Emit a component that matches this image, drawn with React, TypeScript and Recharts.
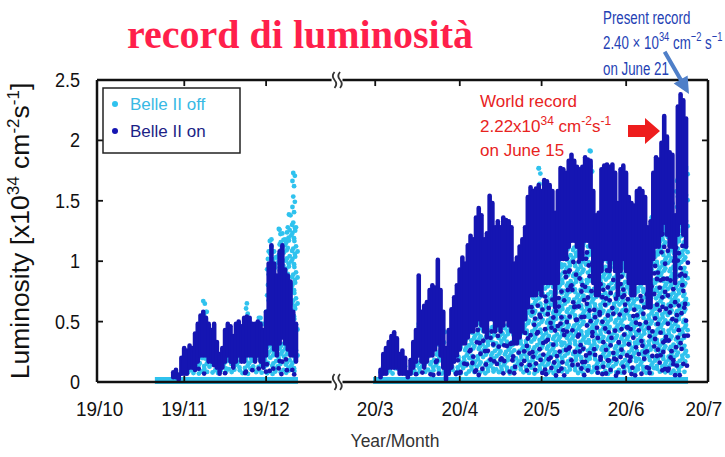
import React from 'react';
import { ComposedChart, Bar, XAxis, YAxis, ReferenceLine, ReferenceDot } from 'recharts';

// x is a compressed day axis: 0 = 1 Oct 2019, the winter shutdown is cut out (1 Mar 2020 = 101)
const xTicks = [0, 31, 61, 101, 132, 162, 193, 223];
const xTickLabels = ['19/10', '19/11', '19/12', '20/3', '20/4', '20/5', '20/6', '20/7'];
const yTicks = [0, 0.5, 1, 1.5, 2, 2.5];
const yTickLabels = ['0', '0.5', '1', '1.5', '2', '2.5'];

// autumn 2019 run, one value per day from 22 Oct
const autumnStart = 21;
const autumnOnHigh = [
  null, null, null, null, null, null,
  0.1, 0.12, 0.08, 0.22, 0.3, 0.28, 0.32, 0.3, 0.42, 0.5, 0.57, 0.6, 0.55, 0.5,
  0.45, 0.5, 0.35, 0.25, 0.3, 0.45, 0.5, 0.48, 0.4, 0.5, 0.52, 0.48, 0.55, 0.56,
  0.55, 0.5, 0.5, 0.52, 0.5, 0.45, 0.6, 1.0, 1.15, 1.0, 0.9, 1.1, 1.15, 0.95, 0.9,
  0.85, 0.6, 0.5,
];
const autumnOnLow = [
  null, null, null, null, null, null,
  0.02, 0.02, 0.0, 0.05, 0.05, 0.05, 0.1, 0.1, 0.08, 0.15, 0.2, 0.2, 0.2, 0.15,
  0.15, 0.12, 0.1, 0.05, 0.1, 0.15, 0.2, 0.15, 0.1, 0.15, 0.2, 0.15, 0.15, 0.2,
  0.2, 0.2, 0.15, 0.2, 0.15, 0.1, 0.2, 0.3, 0.3, 0.25, 0.2, 0.3, 0.35, 0.3, 0.25,
  0.2, 0.2, 0.15,
];
const autumnOffHigh = [
  0.03, 0.03, 0.03, 0.03, 0.03, 0.03,
  0.03, 0.03, 0.03, 0.1, 0.12, 0.15, 0.2, 0.15, 0.2, 0.25, 0.3, 0.69, 0.6, 0.4,
  0.3, 0.3, 0.2, 0.15, 0.2, 0.25, 0.3, 0.3, 0.2, 0.3, 0.3, 0.3, 0.35, 0.67,
  0.45, 0.4, 0.45, 0.5, 0.55, 0.5, 0.6, 1.1, 1.2, 1.1, 1.05, 1.28, 1.25, 1.2, 1.3,
  1.4, 1.75, 1.3,
];

// spring 2020 run, one value per day from 1 Mar
const springStart = 101;
const springOnHigh = [
  null, null, 0.12, 0.25, 0.3, 0.35, 0.4, 0.43, 0.38, 0.25,
  0.28, 0.22, 0.1, 0.2, 0.35, 0.45, 0.9, 0.6, 0.65, 0.68,
  0.78, 0.82, 0.8, 1.03, 0.78, 0.6, 0.3, 0.45, 0.62, 0.72,
  0.82, 0.95, 1.05, 1.0, 1.15, 1.23, 1.2, 1.38, 1.46, 1.4,
  1.2, 1.25, 1.56, 1.5, 1.3, 1.35, 1.3, 1.38, 1.36, 1.35,
  1.3, 1.0, 1.05, 1.14, 1.2, 1.3, 1.55, 1.63, 1.6, 1.62,
  1.65, 1.6, 1.69, 1.68, 1.65, 1.6, 1.42, 1.6, 1.79, 1.78,
  1.75, 1.85, 1.9, 1.85, 1.8, 1.78, 1.8, 1.88, 1.86, 1.85,
  1.6, 1.4, 1.42, 1.78, 1.81, 1.82, 1.8, 1.82, 1.75, 1.5,
  1.78, 1.81, 1.75, 1.55, 1.5, 1.48, 1.6, 1.62, 1.6, 1.55,
  1.3, 1.35, 1.75, 1.88, 1.86, 2.0, 2.22, 2.05, 1.92, 1.9,
  1.4, 2.3, 2.4, 2.35, 2.2,
];
const springOnLow = [
  null, null, 0.02, 0.05, 0.05, 0.1, 0.1, 0.1, 0.1, 0.05,
  0.05, 0.05, 0.02, 0.05, 0.1, 0.15, 0.2, 0.15, 0.1, 0.15,
  0.2, 0.2, 0.25, 0.3, 0.2, 0.1, 0.0, 0.05, 0.1, 0.15,
  0.2, 0.25, 0.3, 0.3, 0.35, 0.4, 0.4, 0.45, 0.5, 0.45,
  0.4, 0.35, 0.5, 0.5, 0.4, 0.45, 0.4, 0.45, 0.5, 0.45,
  0.4, 0.3, 0.3, 0.35, 0.4, 0.5, 0.6, 0.7, 0.7, 0.7,
  0.75, 0.7, 0.8, 0.8, 0.8, 0.8, 0.6, 0.8, 1.0, 1.0,
  1.0, 1.1, 1.15, 1.15, 1.1, 1.0, 1.0, 1.15, 1.15, 1.1,
  0.8, 0.7, 0.7, 0.9, 1.0, 1.0, 0.9, 1.0, 0.9, 0.7,
  0.9, 1.0, 0.9, 0.8, 0.7, 0.7, 0.8, 0.8, 0.8, 0.8,
  0.6, 0.6, 1.0, 1.1, 1.1, 1.2, 1.3, 1.2, 1.1, 1.1,
  0.8, 1.2, 1.3, 1.2, 1.1,
];
const springOffHigh = [
  0.03, 0.05, 0.1, 0.15, 0.2, 0.25, 0.25, 0.3, 0.25, 0.2,
  0.2, 0.15, 0.08, 0.1, 0.2, 0.3, 0.5, 0.4, 0.4, 0.45,
  0.5, 0.55, 0.5, 0.6, 0.5, 0.45, 0.2, 0.3, 0.4, 0.45,
  0.5, 0.55, 0.6, 0.6, 0.7, 0.75, 0.8, 0.85, 0.9, 0.9,
  0.85, 0.9, 1.0, 1.0, 0.95, 1.0, 0.9, 1.0, 1.0, 1.05,
  0.95, 0.8, 0.85, 0.9, 0.9, 1.0, 1.2, 1.3, 1.3, 1.4,
  1.79, 1.5, 1.4, 1.3, 1.3, 1.3, 1.2, 1.3, 1.4, 1.35,
  1.35, 1.4, 1.45, 1.4, 1.35, 1.4, 1.4, 1.45, 1.5, 1.93,
  1.3, 1.2, 1.2, 1.35, 1.4, 1.4, 1.4, 1.45, 1.4, 1.3,
  1.4, 1.45, 1.4, 1.3, 1.25, 1.2, 1.3, 1.3, 1.35, 1.3,
  1.1, 1.15, 1.4, 1.5, 1.5, 1.5, 1.6, 1.55, 1.5, 1.5,
  1.3, 1.7, 1.95, 1.9, 1.8,
];

const OFF = '#2fc2ee';
const ON = '#1515b2';
const INK = '#111';
const FONT = '"Liberation Sans", Arial, sans-serif';
const PLOT_BOTTOM = 382;

const toRows = (start: number, onHigh: (number | null)[], onLow: (number | null)[], offHigh: number[]) =>
  offHigh.map((off, i) => ({
    day: start + i,
    off: [0, off],
    on: onHigh[i] == null ? null : [onLow[i], onHigh[i]],
  }));

const rows = [
  ...toRows(autumnStart, autumnOnHigh, autumnOnLow, autumnOffHigh),
  ...toRows(springStart, springOnHigh, springOnLow, springOffHigh),
];

// cyan column: solid band at zero, speckled dots up to the daily maximum
const OffColumn = (props: any) => {
  const { x, y, width, height, index } = props;
  if (height == null || isNaN(height)) return <g />;
  const cx = x + width / 2;
  const bottom = y + height;
  const dots = [];
  let k = 0;
  for (let yy = bottom - 8 - ((index * 2.3) % 5.2); yy > y + 1; yy -= 5.2, k++) {
    if ((index * 7 + k * 13) % 5 === 0) continue;
    const j = (((index * 5 + k * 3) % 5) - 2) * 0.8;
    dots.push(<circle key={k} cx={cx + j} cy={yy} r={2.4} fill={OFF} />);
  }
  return (
    <g>
      <rect x={cx - 2} y={bottom - 5} width={4} height={7} fill={OFF} />
      {dots}
      {height > 8 && <circle cx={cx} cy={y + 2.4} r={2.4} fill={OFF} />}
    </g>
  );
};

// navy column: dense band between low and high, sparse dots below
const OnColumn = (props: any) => {
  const { x, y, width, height, index } = props;
  if (height == null || isNaN(height)) return <g />;
  const cx = x + width / 2;
  const low = y + height;
  const dots = [];
  let k = 0;
  for (let yy = low + 8 + ((index * 4.7) % 11); yy < PLOT_BOTTOM - 6; yy += 13 + (k % 3) * 2, k++) {
    if ((index * 3 + k * 5) % 4 === 0) continue;
    const j = (((index * 3 + k * 7) % 5) - 2) * 0.9;
    dots.push(<circle key={k} cx={cx + j} cy={yy} r={2.4} fill={ON} />);
  }
  return (
    <g>
      {dots}
      <rect x={cx - 2.3} y={y} width={4.6} height={Math.max(height, 4.6)} rx={2.3} fill={ON} />
    </g>
  );
};

const XTick = (props: any) => {
  const { x, y, payload, index } = props;
  const shift = index === xTicks.length - 1 ? -4 : 0;
  return (
    <g transform={`translate(${x + shift},${y}) scale(0.9,1)`}>
      <text x={0} y={0} dy={15} textAnchor="middle" fontFamily={FONT} fontSize={21} fill={INK}>
        {xTickLabels[xTicks.indexOf(payload.value)]}
      </text>
    </g>
  );
};

const YTick = (props: any) => {
  const { x, y, payload } = props;
  return (
    <g transform={`translate(${x},${y}) scale(0.86,1)`}>
      <text x={0} y={0} dy={7} textAnchor="end" fontFamily={FONT} fontSize={21} fill={INK}>
        {yTickLabels[yTicks.indexOf(payload.value)]}
      </text>
    </g>
  );
};

const AxisBreak = (props: any) => {
  const { cx, cy } = props;
  const s = (x0: number) => `M${x0},${cy - 8} q-3.5,4 0,8 q3.5,4 0,8`;
  return (
    <g>
      <path d={s(cx - 2.5)} stroke="#333" strokeWidth={1.8} fill="none" />
      <path d={s(cx + 3)} stroke="#333" strokeWidth={1.8} fill="none" />
    </g>
  );
};

const frameSegments: { x: number; y: number }[][] = [
  [{ x: -1, y: 0 }, { x: 85, y: 0 }],
  [{ x: 89, y: 0 }, { x: 223, y: 0 }],
  [{ x: -1, y: 2.5 }, { x: 85, y: 2.5 }],
  [{ x: 89, y: 2.5 }, { x: 223, y: 2.5 }],
  [{ x: -1, y: 0 }, { x: -1, y: 2.5 }],
  [{ x: 223, y: 0 }, { x: 223, y: 2.5 }],
];
const tickSegments: { x: number; y: number }[][] = [
  ...xTicks.slice(1, -1).flatMap((t) => [
    [{ x: t, y: 0 }, { x: t, y: 0.05 }],
    [{ x: t, y: 2.5 }, { x: t, y: 2.45 }],
  ]),
  ...yTicks.slice(1, -1).flatMap((v) => [
    [{ x: -1, y: v }, { x: 1.2, y: v }],
    [{ x: 223, y: v }, { x: 220.8, y: v }],
  ]),
];

const Overlay = () => (
  <svg width={725} height={457} style={{ position: 'absolute', left: 0, top: 0, pointerEvents: 'none' }}>
    <text x={300} y={48} textAnchor="middle" fontFamily='"Liberation Serif", "Times New Roman", serif'
      fontWeight="bold" fontSize={40} fill="#ff1f4b">record di luminosità</text>

    <g transform="translate(603,0) scale(0.72,1)" fontFamily={FONT} fontSize={18.5} fill="#2441b4">
      <text x={0} y={24}>Present record</text>
      <text x={0} y={49}>
        2.40 × 10<tspan dy={-8} fontSize={13}>34</tspan>
        <tspan dy={8}> cm</tspan><tspan dy={-8} fontSize={13}>−2</tspan>
        <tspan dy={8}> s</tspan><tspan dy={-8} fontSize={13}>−1</tspan>
      </text>
      <text x={0} y={75}>on June 21</text>
    </g>
    <polygon points="666.4,50.7 682.4,78.4 687.6,75.4 689,94 673.7,83.4 678.9,80.4 662.9,52.7" fill="#4f7fc8" />

    <g fontFamily={FONT} fontSize={17} fill="#e8231e">
      <text x={480} y={107}>World record</text>
      <text x={480} y={132}>
        2.22x10<tspan dy={-7} fontSize={12}>34</tspan>
        <tspan dy={7}> cm</tspan><tspan dy={-7} fontSize={12}>-2</tspan>
        <tspan dy={7}>s</tspan><tspan dy={-7} fontSize={12}>-1</tspan>
      </text>
      <text x={480} y={156}>on June 15</text>
    </g>
    <polygon points="628,125 645,125 645,118 660,131 645,144 645,137 628,137" fill="#ee1d1d" />

    <rect x={103} y={88} width={137} height={65} fill="#fff" stroke="#222" strokeWidth={1.5} />
    <circle cx={115} cy={104} r={3} fill={OFF} />
    <text x={130} y={110} fontFamily={FONT} fontSize={17} fill="#38b9e4">Belle II off</text>
    <circle cx={115} cy={131} r={3} fill={ON} />
    <text x={130} y={137} fontFamily={FONT} fontSize={17} fill="#1c1f86">Belle II on</text>

    <text transform="translate(29,231) rotate(-90)" textAnchor="middle" fontFamily={FONT} fontSize={26.5} fill={INK}>
      Luminosity [x10<tspan dy={-10} fontSize={17}>34</tspan>
      <tspan dy={10}> cm</tspan><tspan dy={-10} fontSize={17}>-2</tspan>
      <tspan dy={10}>s</tspan><tspan dy={-10} fontSize={17}>-1</tspan>
      <tspan dy={10}>]</tspan>
    </text>

    <text x={395} y={447} textAnchor="middle" fontFamily={FONT} fontSize={17.5} fill="#333">Year/Month</text>
  </svg>
);

const App = () => (
  <div style={{ position: 'absolute', left: 0, top: 0, width: 725, height: 457, background: '#fff' }}>
    <ComposedChart width={725} height={457} data={rows} margin={{ top: 80, right: 17, left: 0, bottom: 0 }}>
      <XAxis
        xAxisId="main"
        type="number"
        dataKey="day"
        domain={[-1, 223]}
        ticks={xTicks}
        interval={0}
        axisLine={false}
        tickLine={false}
        tickSize={0}
        tickMargin={19}
        height={75}
        tick={<XTick />}
      />
      <XAxis xAxisId="on" type="number" dataKey="day" domain={[-1, 223]} hide />
      <YAxis
        type="number"
        domain={[0, 2.5]}
        ticks={yTicks}
        interval={0}
        axisLine={false}
        tickLine={false}
        tickSize={0}
        tickMargin={17}
        width={97}
        tick={<YTick />}
      />
      <Bar xAxisId="main" dataKey="off" barSize={3} shape={OffColumn} isAnimationActive={false} />
      <Bar xAxisId="on" dataKey="on" barSize={3} shape={OnColumn} isAnimationActive={false} />
      {frameSegments.map((seg, i) => (
        <ReferenceLine key={`f${i}`} xAxisId="main" segment={seg} stroke={INK} strokeWidth={2.5} />
      ))}
      {tickSegments.map((seg, i) => (
        <ReferenceLine key={`t${i}`} xAxisId="main" segment={seg} stroke={INK} strokeWidth={1.8} />
      ))}
      <ReferenceDot xAxisId="main" x={87} y={0} shape={AxisBreak} />
      <ReferenceDot xAxisId="main" x={87} y={2.5} shape={AxisBreak} />
    </ComposedChart>
    <Overlay />
  </div>
);

export default App;
